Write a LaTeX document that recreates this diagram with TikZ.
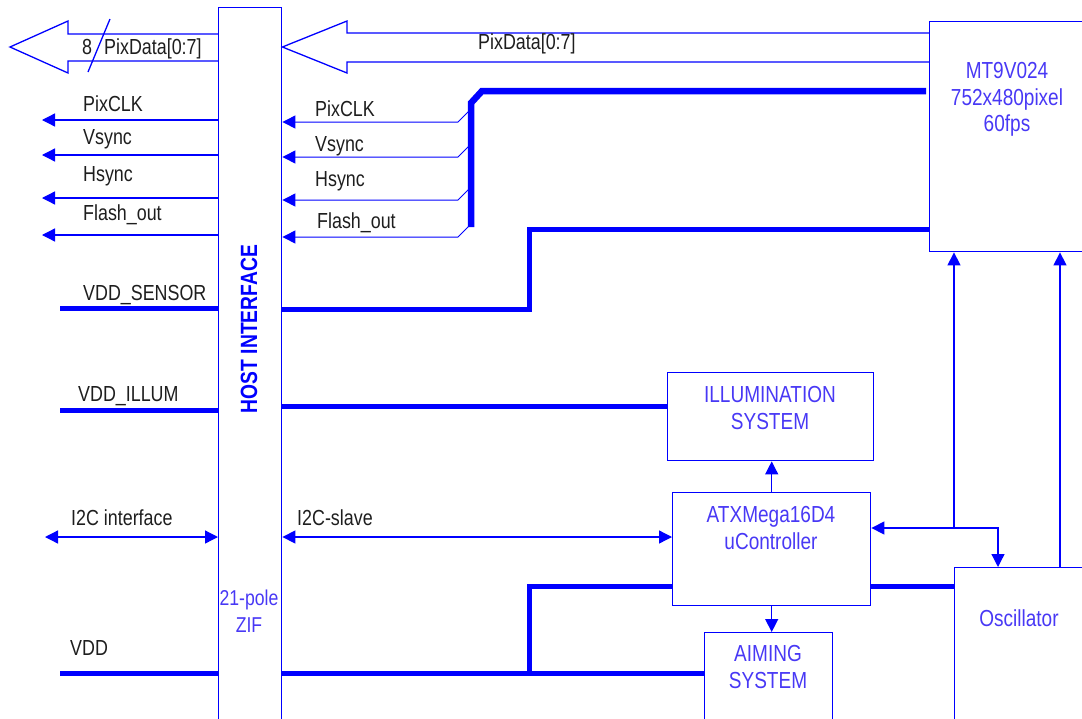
\documentclass[tikz,border=0pt]{standalone}
\usepackage{fontspec}
\setmainfont{Liberation Sans}[FakeStretch=0.82]
\usetikzlibrary{arrows.meta}
\definecolor{ln}{RGB}{0,0,255}
\definecolor{bt}{RGB}{72,56,245}
\definecolor{lt}{RGB}{30,30,30}
\begin{document}
\begin{tikzpicture}[x=1pt,y=-1pt,
  thinl/.style={draw=ln, line width=1.3pt},
  thickl/.style={draw=ln, line width=5pt},
  busl/.style={draw=ln, line width=6.5pt},
  tip/.style={-{Triangle[length=13pt,width=13pt]}},
  dtip/.style={{Triangle[length=13pt,width=13pt]}-{Triangle[length=13pt,width=13pt]}},
  box/.style={draw=ln, line width=1.4pt, inner sep=0pt, anchor=north west},
  lab/.style={text=lt, font=\fontsize{21.8}{25}\selectfont, anchor=base west, inner sep=0pt},
  btxt/.style={text=bt, font=\fontsize{23.2}{26}\selectfont, anchor=base, inner sep=0pt}]
\useasboundingbox (0,0) rectangle (1082,718);
\clip (0,0) rectangle (1082,718);

% boxes
\node[box, minimum width=63pt, minimum height=730pt] (host) at (218,7) {};
\node[box, minimum width=170pt, minimum height=230pt] (mt) at (929,21) {};
\node[box, minimum width=206pt, minimum height=88pt] (ill) at (667,372) {};
\node[box, minimum width=198pt, minimum height=113pt] (atx) at (672,492) {};
\node[box, minimum width=128pt, minimum height=100pt] (aim) at (704,632) {};
\node[box, minimum width=140pt, minimum height=170pt] (osc) at (954,567) {};

% box texts
\node[btxt] (mt1) at (1007,78) {MT9V024};
\node[btxt] (mt2) at (1007,105) {752x480pixel};
\node[btxt] (mt3) at (1007,131) {60fps};
\node[btxt] (il1) at (770,402) {ILLUMINATION};
\node[btxt] (il2) at (770,429) {SYSTEM};
\node[btxt] (at1) at (771,522) {ATXMega16D4};
\node[btxt] (at2) at (771,549) {uController};
\node[btxt] (am1) at (768,661) {AIMING};
\node[btxt] (am2) at (768,688) {SYSTEM};
\node[btxt] (os) at (1019,626) {Oscillator};
\node[btxt, font=\fontsize{21.5}{25}\selectfont] (zif1) at (249,605) {21-pole};
\node[btxt, font=\fontsize{21.5}{25}\selectfont] (zif2) at (249,632) {ZIF};
\node[rotate=90, text=ln, inner sep=0pt, font=\bfseries\fontsize{23.5}{27}\selectfont] (hi) at (249,329) {HOST INTERFACE};

% big bus arrows
\draw[thinl] (host.west |- 0,34) -- (68,34) -- (68,21) -- (10,47) -- (68,73) -- (68,61) -- (host.west |- 0,61);
\draw[thinl] (110,19) -- (88,72);
\node[lab] (n8) at (82,54) {8};
\node[lab] (pd1) at (104,54) {PixData[0:7]};
\draw[thinl] (mt.west |- 0,33) -- (347,33) -- (347,21) -- (host.east |- 0,47) -- (347,73) -- (347,62) -- (mt.west |- 0,62);
\node[lab] (pd2) at (478,49) {PixData[0:7]};

% left signals
\foreach \n/\y/\ty/\t in {1/120/111/PixCLK,2/155/144/Vsync,3/198/181/Hsync,4/235/220/Flash\_out}{
  \coordinate (L\n) at (42,\y);
  \draw[thinl, tip] (host.west |- L\n) -- (L\n);
  \node[lab] (lt\n) at (83,\ty) {\t};
}

% right signals from sensor bus
\coordinate (B0) at (926,91);
\coordinate (B1) at (482,91);
\coordinate (B2) at (471,103);
\coordinate (B3) at (471,227);
\draw[busl] (B0) -- (B1) -- (B2) -- (B3);
\foreach \n/\y/\ty/\tx/\t in {1/122/116/315/PixCLK,2/157/151/315/Vsync,3/200/186/315/Hsync,4/237/228/317/Flash\_out}{
  \coordinate (R\n) at (458,\y);
  \coordinate (S\n) at (469,\y-11);
  \draw[thinl, line width=1pt, tip] (S\n) -- (R\n) -- (host.east |- R\n);
  \node[lab] (rt\n) at (\tx,\ty) {\t};
}

% VDD_SENSOR
\coordinate (VS0) at (60,308);
\draw[thickl] (VS0) -- (host.west |- VS0);
\node[lab] (vsl) at (83,300) {VDD\_SENSOR};
\coordinate (VS1) at (529,309);
\coordinate (VS2) at (529,229);
\draw[thickl] (host.east |- VS1) -- (VS1) -- (VS2) -- (mt.west |- VS2);

% VDD_ILLUM
\coordinate (VI0) at (60,410);
\draw[thickl] (VI0) -- (host.west |- VI0);
\node[lab] (vil) at (78,401) {VDD\_ILLUM};
\coordinate (VI1) at (400,406);
\draw[thickl] (host.east |- VI1) -- (ill.west |- VI1);

% I2C
\coordinate (I0) at (45,537);
\draw[thinl, dtip] (I0) -- (host.west |- I0);
\node[lab] (i2l) at (71,525) {I2C interface};
\draw[thinl, dtip] (host.east |- I0) -- (atx.west |- I0);
\node[lab] (i2s) at (297,525) {I2C-slave};

% VDD
\coordinate (V0) at (60,673);
\draw[thickl] (V0) -- (host.west |- V0);
\node[lab] (vdl) at (70,655) {VDD};
\coordinate (V1) at (529,673);
\coordinate (V2) at (529,586);
\draw[thickl] (host.east |- V0) -- (aim.west |- V0);
\draw[thickl] (V1) -- (V2) -- (atx.west |- V2);
\draw[thickl] (atx.east |- V2) -- (osc.west |- V2);

% controller arrows
\draw[thinl, tip] (atx.north) -- (atx.north |- ill.south);
\draw[thinl, tip] (atx.south) -- (atx.south |- aim.north);
\coordinate (C0) at (954,528);
\coordinate (C1) at (998,528);
\draw[thinl, dtip] (atx.east |- C0) -- (C1) -- (C1 |- osc.north);
\draw[thinl, tip] (C0) -- (C0 |- mt.south);
\coordinate (C2) at (1060,567);
\draw[thinl, tip] (C2) -- (C2 |- mt.south);
\end{tikzpicture}
\end{document}
